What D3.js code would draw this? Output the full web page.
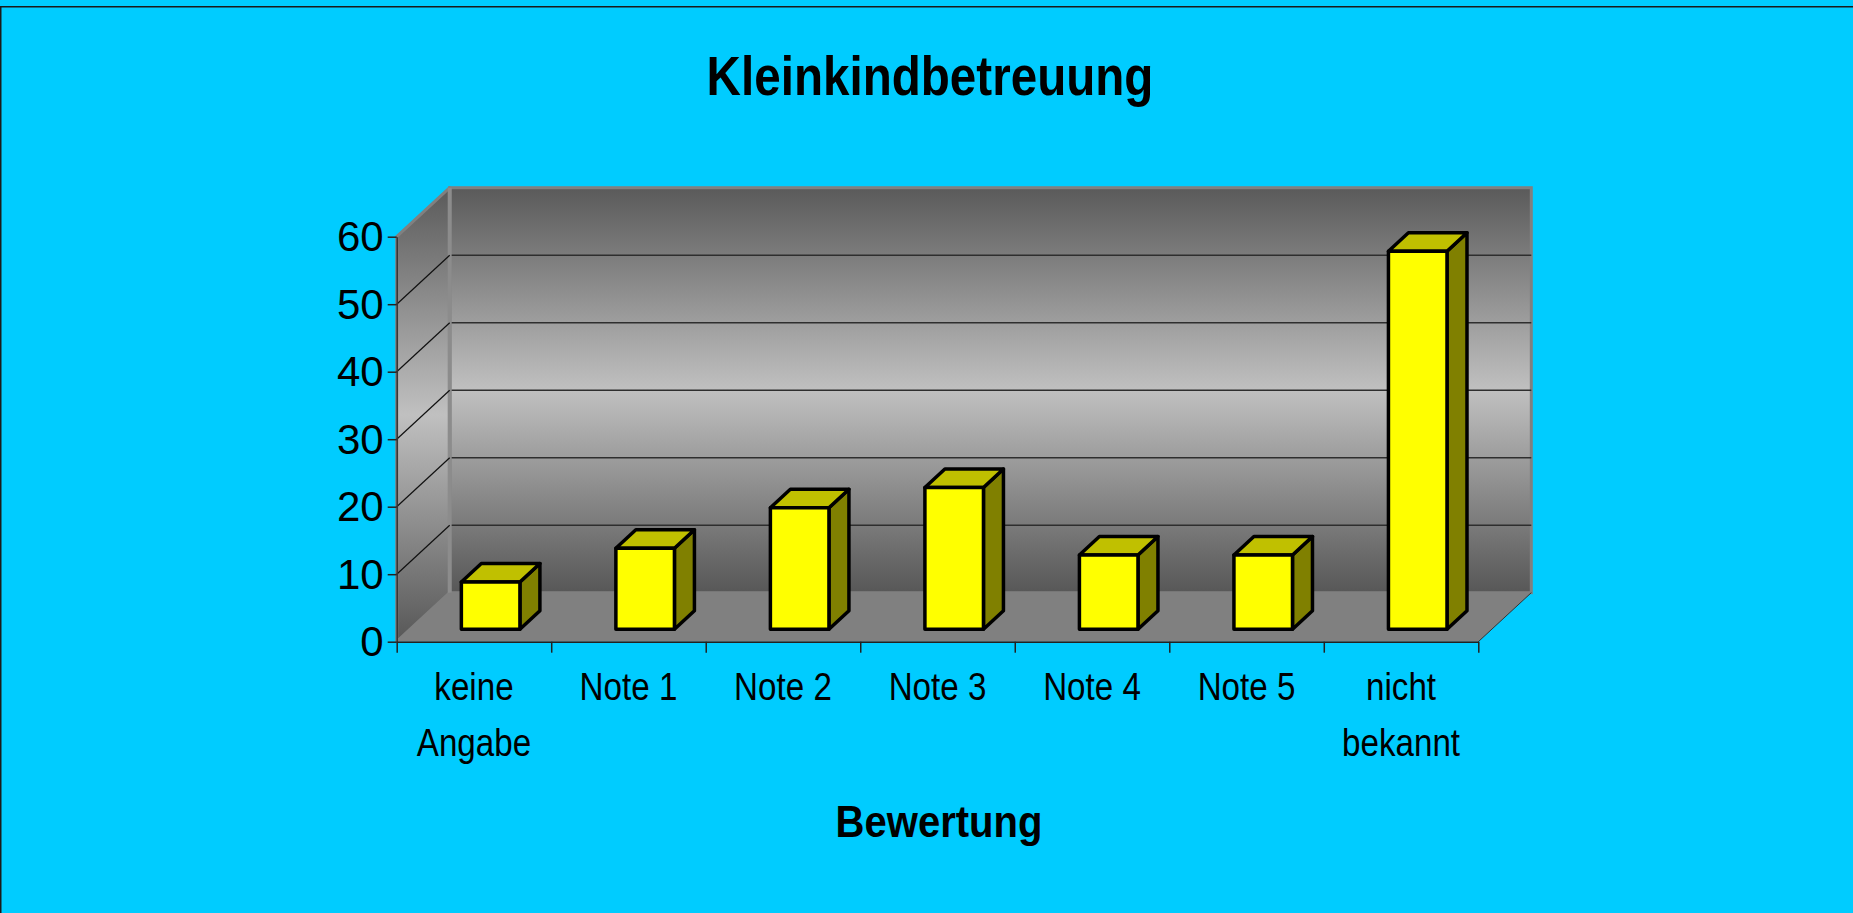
<!DOCTYPE html>
<html>
<head>
<meta charset="utf-8">
<script src="https://cdn.jsdelivr.net/npm/d3@7"></script>
<style>
  html, body { margin: 0; padding: 0; background: #00CCFF; overflow: hidden; }
  svg { display: block; }
  text { font-family: "Liberation Sans", Arial, sans-serif; fill: #000; }
</style>
</head>
<body>
<svg id="chart" width="1853" height="913"></svg>
<script>
// ---- data ----
const chartTitle = "Kleinkindbetreuung";
const xAxisTitle = "Bewertung";
const categories = ["keine\nAngabe", "Note 1", "Note 2", "Note 3", "Note 4", "Note 5", "nicht\nbekannt"];
const values = [7, 12, 18, 21, 11, 11, 56];
const yTicks = [0, 10, 20, 30, 40, 50, 60];

// ---- layout ----
const W = 1853, H = 913;
const X0 = 396.7, X1 = 1478.3, YB = 641.7, YT = 236.7;
const DX = 53, DY = -49;            // depth offset of the 3D box
const barZ0 = 0.255, barZ1 = 0.632; // bar depth range (0 = front, 1 = back)
const barU0 = 0.331, barU1 = 0.710; // bar position inside its band

const svg = d3.select("#chart");

const x = d3.scaleBand().domain(categories).range([X0, X1]).padding(0);
const xEdge = d3.scaleLinear().domain([0, categories.length]).range([X0, X1]);
const y = d3.scaleLinear().domain([0, 60]).range([YB, YT]);
const proj = (px, py, z) => [px + z * DX, py + z * DY];
const poly = pts => pts.map(p => p.join(",")).join(" ");

// gradients
const defs = svg.append("defs");
function grad(id, y1, y2) {
  const g = defs.append("linearGradient").attr("id", id)
    .attr("gradientUnits", "userSpaceOnUse")
    .attr("x1", 0).attr("x2", 0).attr("y1", y1).attr("y2", y2);
  g.append("stop").attr("offset", 0).attr("stop-color", "#5a5a5a");
  g.append("stop").attr("offset", 0.5).attr("stop-color", "#c0c0c0");
  g.append("stop").attr("offset", 1).attr("stop-color", "#575757");
}
grad("backGrad", y(60) + DY, y(0) + DY);
grad("sideGrad", y(60) + DY, y(0));

// outer frame line
svg.append("path").attr("d", `M0.75,${H} V6.75 H${W}`)
  .attr("fill", "none").attr("stroke", "#1a1a1a").attr("stroke-width", 1.5);

// title
svg.append("g").attr("transform", "translate(930,95)")
  .append("text").attr("transform", "scale(0.85,1)")
  .attr("text-anchor", "middle").attr("font-size", 56).attr("font-weight", "bold")
  .text(chartTitle);

// back wall
const bw0 = proj(X0, y(60), 1), bw1 = proj(X1, y(0), 1);
svg.append("rect")
  .attr("x", bw0[0]).attr("y", bw0[1])
  .attr("width", bw1[0] - bw0[0]).attr("height", bw1[1] - bw0[1])
  .attr("fill", "url(#backGrad)").attr("stroke", "#808080").attr("stroke-width", 3);

// left wall
svg.append("polygon")
  .attr("points", poly([proj(X0, y(60), 0), proj(X0, y(60), 1), proj(X0, y(0), 1), proj(X0, y(0), 0)]))
  .attr("fill", "url(#sideGrad)").attr("stroke", "#808080").attr("stroke-width", 3)
  .attr("stroke-linejoin", "round");
svg.append("line")
  .attr("x1", X0 + DX).attr("x2", X0 + DX).attr("y1", y(60) + DY).attr("y2", y(0) + DY)
  .attr("stroke", "#8c8c8c").attr("stroke-width", 4);

// floor
svg.append("polygon")
  .attr("points", poly([proj(X0, y(0), 0), proj(X0, y(0), 1), proj(X1, y(0), 1), proj(X1, y(0), 0)]))
  .attr("fill", "#808080");
svg.append("line")
  .attr("x1", X1).attr("y1", y(0)).attr("x2", X1 + DX).attr("y2", y(0) + DY)
  .attr("stroke", "#333").attr("stroke-width", 1);

// gridlines
const gridVals = yTicks.filter(v => v > 0 && v < 60);
svg.append("g").selectAll("line.back").data(gridVals).join("line")
  .attr("x1", X0 + DX + 2).attr("x2", X1 + DX)
  .attr("y1", d => y(d) + DY).attr("y2", d => y(d) + DY)
  .attr("stroke", "#2e2e2e").attr("stroke-width", 1.5);
svg.append("g").selectAll("line.side").data(gridVals).join("line")
  .attr("x1", X0).attr("x2", X0 + DX)
  .attr("y1", d => y(d)).attr("y2", d => y(d) + DY)
  .attr("stroke", "#111").attr("stroke-width", 1.2);

// y axis
const yAxis = svg.append("g").attr("transform", `translate(${X0},0)`)
  .call(d3.axisLeft(y).tickValues(yTicks).tickSize(9).tickSizeOuter(0).tickPadding(4));
yAxis.select(".domain").attr("stroke", "#333").attr("stroke-width", 1.5);
yAxis.selectAll(".tick line").attr("stroke", "#222").attr("stroke-width", 1.5);
yAxis.selectAll(".tick text")
  .attr("font-size", 42).attr("font-family", "Liberation Sans, Arial, sans-serif")
  .attr("fill", "#000").attr("dy", "0.34em");

// x axis (ticks at category boundaries)
const xAxis = svg.append("g").attr("transform", `translate(0,${YB})`)
  .call(d3.axisBottom(xEdge).tickValues(d3.range(categories.length + 1))
    .tickSize(11).tickSizeOuter(0).tickFormat(""));
xAxis.select(".domain").attr("stroke", "#222").attr("stroke-width", 1.5);
xAxis.selectAll(".tick line").attr("stroke", "#222").attr("stroke-width", 1.5);

// category labels
const lab = svg.append("g").selectAll("g").data(categories).join("g")
  .attr("transform", d => `translate(${x(d) + x.bandwidth() / 2},700)`);
lab.append("text").attr("transform", "scale(0.84,1)")
  .attr("text-anchor", "middle").attr("font-size", 39.5)
  .selectAll("tspan").data(d => d.split("\n")).join("tspan")
  .attr("x", 0).attr("y", (d, i) => i * 56).text(d => d);

// x axis title
svg.append("g").attr("transform", "translate(939,837)")
  .append("text").attr("transform", "scale(0.91,1)")
  .attr("text-anchor", "middle").attr("font-size", 44).attr("font-weight", "bold")
  .text(xAxisTitle);

// bars
const bars = svg.append("g").selectAll("g").data(categories.map((c, i) => ({ c, v: values[i] }))).join("g");
bars.each(function (d) {
  const g = d3.select(this);
  const bwd = x.bandwidth();
  const xl = x(d.c) + barU0 * bwd, xr = x(d.c) + barU1 * bwd;
  const yb = y(0), yt = y(d.v);
  const common = s => s.attr("stroke", "#000").attr("stroke-width", 3.5).attr("stroke-linejoin", "round");
  // side
  common(g.append("polygon")
    .attr("points", poly([proj(xr, yb, barZ0), proj(xr, yt, barZ0), proj(xr, yt, barZ1), proj(xr, yb, barZ1)]))
    .attr("fill", "#808000"));
  // top
  common(g.append("polygon")
    .attr("points", poly([proj(xl, yt, barZ0), proj(xr, yt, barZ0), proj(xr, yt, barZ1), proj(xl, yt, barZ1)]))
    .attr("fill", "#C0C000"));
  // front
  common(g.append("polygon")
    .attr("points", poly([proj(xl, yb, barZ0), proj(xr, yb, barZ0), proj(xr, yt, barZ0), proj(xl, yt, barZ0)]))
    .attr("fill", "#FFFF00"));
});
</script>
</body>
</html>
